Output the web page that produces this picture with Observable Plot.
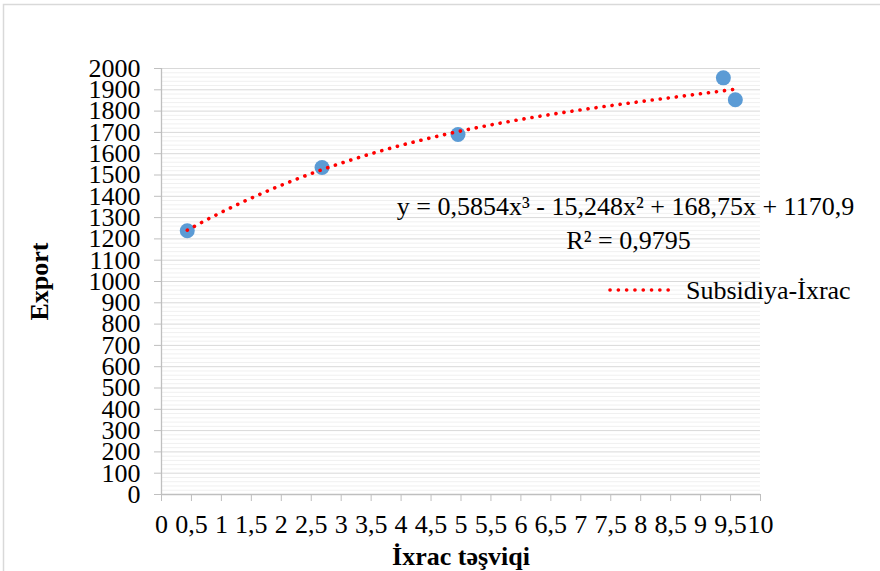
<!DOCTYPE html>
<html>
<head>
<meta charset="utf-8">
<script src="https://cdn.jsdelivr.net/npm/d3@7"></script>
<script src="https://cdn.jsdelivr.net/npm/@observablehq/plot@0.6"></script>
<style>
  html, body { margin: 0; padding: 0; background: #fff; }
  #chart svg { display: block; }
  #chart svg, #chart svg text { font-family: "Liberation Serif", "Times New Roman", serif !important; }
  g[aria-label="y-axis label"] text, g[aria-label="x-axis label"] text { font-weight: bold; font-size: 26px; }
</style>
</head>
<body>
<div id="chart"></div>
<script>
// Data
const xValues = [0.43, 2.68, 4.95, 9.38, 9.58];           // İxrac təşviqi
const yValues = [1238, 1535, 1690, 1956, 1853];           // Export
// Polynomial trendline shown on the chart: y = 0,5854x³ - 15,248x² + 168,75x + 1170,9
const trendCoeffs = [1170.9, 168.75, -15.248, 0.5854];     // c0 + c1 x + c2 x² + c3 x³
const equationText = "y = 0,5854x³ - 15,248x² + 168,75x + 1170,9";
const r2Text = "R² = 0,9795";
const seriesName = "Subsidiya-İxrac";
const xTicks = d3.range(0, 10.001, 0.5);
const yTicks = d3.range(0, 2001, 100);
const yMinorTicks = d3.range(0, 2001, 20).filter(v => v % 100 !== 0);

const points = xValues.map((x, i) => ({x, y: yValues[i]}));
const xmin = d3.min(xValues), xmax = d3.max(xValues);
const trend = d3.range(0, 101).map(i => {
  const x = xmin + (xmax - xmin) * i / 100;
  return {x, y: trendCoeffs.reduce((s, c, k) => s + c * Math.pow(x, k), 0)};
});

const fmt = v => String(v).replace(".", ",");
const FS = 26;

const plot = Plot.plot({
  width: 880,
  height: 571,
  marginLeft: 161,
  marginRight: 120,
  marginTop: 68,
  marginBottom: 77,
  style: "font-family: 'Liberation Serif', 'Times New Roman', serif; font-size: 26px; color: #000; background: #fff;",
  x: {domain: [0, 10]},
  y: {domain: [0, 2000]},
  marks: [
    Plot.ruleY(yMinorTicks, {stroke: "#f0f0f0", strokeWidth: 1}),
    Plot.ruleY(yTicks, {stroke: "#d9d9d9", strokeWidth: 1}),
    Plot.ruleX([0], {stroke: "#bfbfbf", strokeWidth: 1.3}),
    Plot.ruleY([0], {stroke: "#bfbfbf", strokeWidth: 1.3}),
    Plot.axisX({ticks: xTicks, tickFormat: fmt, tickSize: 7, tickPadding: 13, stroke: "#bfbfbf",
      fontSize: FS, label: "İxrac təşviqi", labelAnchor: "center", labelArrow: "none", labelOffset: 70}),
    Plot.axisY({ticks: yTicks, tickFormat: d => String(d), tickSize: 7, tickPadding: 14, stroke: "#bfbfbf",
      fontSize: FS, label: "Export", labelAnchor: "center", labelArrow: "none", labelOffset: 132}),
    Plot.dot(points, {x: "x", y: "y", r: 7.5, fill: "#5b9bd5", stroke: "none"}),
    Plot.line(trend, {x: "x", y: "y", stroke: "#ff0000", strokeWidth: 3.6, strokeLinecap: "round", strokeDasharray: "0.1 8", curve: "linear"}),
    Plot.text([equationText], {frameAnchor: "top-right", dx: -135, dy: 138, textAnchor: "middle", lineAnchor: "middle", fontSize: FS, fill: "#000"}),
    Plot.text([r2Text], {frameAnchor: "top-right", dx: -132, dy: 172, textAnchor: "middle", lineAnchor: "middle", fontSize: FS, fill: "#000"})
  ]
});

const svg = d3.select(plot);
// outer chart frame
svg.insert("rect", ":first-child")
  .attr("x", 3.5).attr("y", 4.5).attr("width", 900).attr("height", 900)
  .attr("fill", "none").attr("stroke", "#d9d9d9").attr("stroke-width", 1.5);
// legend
const lg = svg.append("g").attr("aria-label", "legend");
lg.append("line").attr("x1", 610).attr("x2", 676).attr("y1", 290).attr("y2", 290)
  .attr("stroke", "#ff0000").attr("stroke-width", 3.6).attr("stroke-linecap", "round").attr("stroke-dasharray", "0.1 8.2");
lg.append("text").attr("x", 686).attr("y", 290).attr("dy", "0.35em").attr("text-anchor", "start")
  .attr("font-size", FS).attr("fill", "#000").text(seriesName);

document.getElementById("chart").appendChild(plot);
</script>
</body>
</html>
